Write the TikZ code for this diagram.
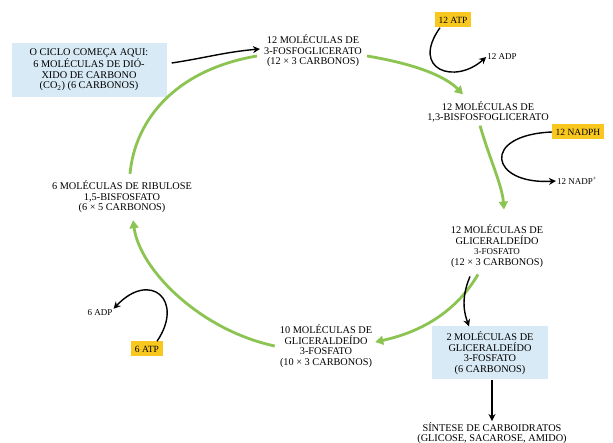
\documentclass[tikz,border=0pt]{standalone}
\usepackage{fontspec}
\setmainfont{Liberation Serif}
\usetikzlibrary{arrows.meta}
\definecolor{cgreen}{RGB}{140,196,82}
\definecolor{cyellow}{RGB}{248,200,30}
\definecolor{cblue}{RGB}{216,234,245}
\begin{document}
\begin{tikzpicture}[x=1pt,y=-1pt,
 lbl/.style={font=\fontsize{10.3}{10.5}\selectfont, align=center, inner sep=1pt},
 small/.style={font=\fontsize{9}{10}\selectfont, inner sep=1pt},
 ybox/.style={fill=cyellow, font=\fontsize{9.5}{10}\selectfont, minimum height=15pt, inner sep=3.5pt},
 bbox/.style={fill=cblue, font=\fontsize{10.3}{10.5}\selectfont, align=center, inner sep=2pt},
 garrow/.style={draw=cgreen, line width=2.8pt, -{Triangle[length=8pt,width=9pt]}},
 gline/.style={draw=cgreen, line width=2.8pt},
 karrow/.style={draw=black, line width=1.4pt, -{Stealth[length=7pt,width=7pt]}}
]
\useasboundingbox (0,0) rectangle (613,443);
\fill[white] (0,0) rectangle (613,443);

\node[bbox, minimum width=155pt, minimum height=54pt] (start) at (89,70) {O CICLO COMEÇA AQUI:\\6 MOLÉCULAS DE DIÓ-\\XIDO DE CARBONO\\(CO\textsubscript{2}) (6 CARBONOS)};
\node[lbl] (pga) at (313,51) {12 MOLÉCULAS DE\\3-FOSFOGLICERATO\\(12 × 3 CARBONOS)};
\node[ybox] (atp12) at (453,20) {12 ATP};
\node[small] (adp12) at (502,57) {12 ADP};
\node[lbl] (bpg) at (488,112) {12 MOLÉCULAS DE\\1,3-BISFOSFOGLICERATO};
\node[ybox] (nadph) at (578,132) {12 NADPH};
\node[small] (nadp) at (577,181) {12 NADP\textsuperscript{+}};
\node[lbl] (g3pa) at (497,246) {12 MOLÉCULAS DE\\GLICERALDEÍDO\\{\fontsize{9}{10.5}\selectfont 3-FOSFATO}\\(12 × 3 CARBONOS)};
\node[bbox, minimum width=116pt, minimum height=53pt] (g3pb) at (490,353) {2 MOLÉCULAS DE\\GLICERALDEÍDO\\3-FOSFATO\\(6 CARBONOS)};
\node[lbl] (sint) at (492,433) {SÍNTESE DE CARBOIDRATOS\\(GLICOSE, SACAROSE, AMIDO)};
\node[lbl] (g3pc) at (326,346) {10 MOLÉCULAS DE\\GLICERALDEÍDO\\3-FOSFATO\\(10 × 3 CARBONOS)};
\node[lbl] (rubp) at (122,197) {6 MOLÉCULAS DE RIBULOSE\\1,5-BISFOSFATO\\(6 × 5 CARBONOS)};
\node[ybox] (atp6) at (147,349) {6 ATP};
\node[small] (adp6) at (100,313) {6 ADP};

% green cycle
\draw[gline] ([shift={(8,-6)}]rubp.north) .. controls (135,120) and (175,70) .. ([shift={(-6,5)}]pga.west);
\draw[garrow] ([shift={(4,5)}]pga.east) .. controls (415,64) and (445,76) .. ([shift={(-25,-6)}]bpg.north);
\draw[garrow] ([shift={(-8,2)}]bpg.south) .. controls (490,160) and (502,185) .. ([shift={(7,-14)}]g3pa.north);
\draw[garrow] ([shift={(-19,6)}]g3pa.south) .. controls (460,305) and (430,330) .. ([shift={(2,-4)}]g3pc.east);
\draw[garrow] ([shift={(-4,0)}]g3pc.west) .. controls (200,330) and (140,270) .. ([shift={(11,6)}]rubp.south);

% black arrows
\draw[karrow] ([shift={(5,-7)}]start.east) .. controls (205,58) and (225,52) .. ([shift={(-3,-2)}]pga.west);
\draw[karrow] ([shift={(-13,0)}]atp12.south) .. controls (410,70) and (455,85) .. (adp12.west);
\draw[karrow] (nadph.west) .. controls (480,135) and (490,185) .. (nadp.west);
\draw[karrow] ([shift={(-27,8)}]g3pa.south) .. controls (460,300) and (465,315) .. ([shift={(-21,0)}]g3pb.north);
\draw[karrow] ([xshift=2pt]g3pb.south) -- ([xshift=0pt]sint.north);
\draw[karrow] ([xshift=10pt]atp6.north) .. controls (185,300) and (150,270) .. (adp6.north east);
\end{tikzpicture}
\end{document}
